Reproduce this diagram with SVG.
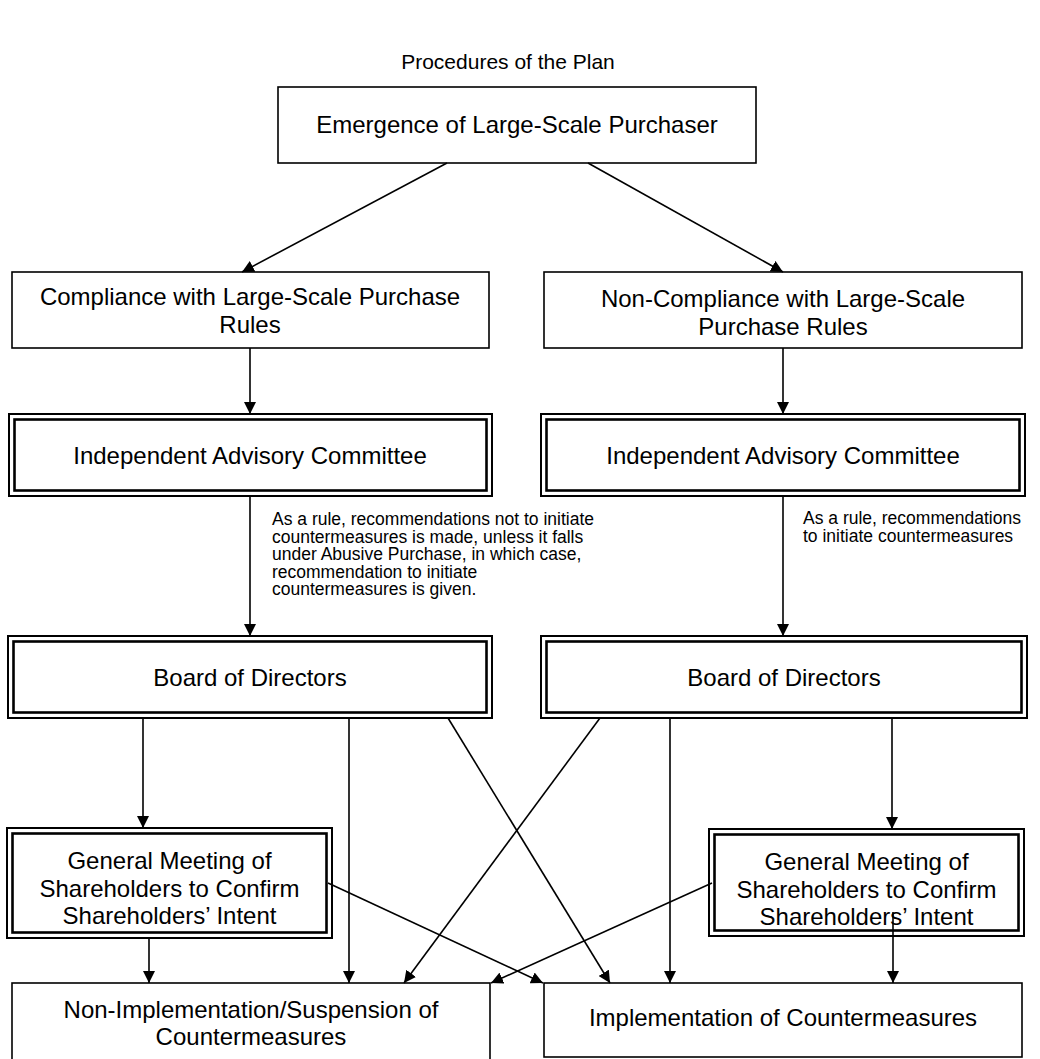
<svg xmlns="http://www.w3.org/2000/svg" width="1040" height="1059" viewBox="0 0 1040 1059">
<defs>
<marker id="ah" markerUnits="userSpaceOnUse" markerWidth="12" markerHeight="12" viewBox="0 0 12 12" refX="12" refY="6" orient="auto">
<path d="M0,0 L12,6 L0,12 z" fill="#000"/>
</marker>
<style>
.bx{fill:#fff;stroke:#000;stroke-width:1.6}
.o{fill:#fff;stroke:#000;stroke-width:2}
.i{fill:none;stroke:#000;stroke-width:2.6}
.t{font-family:"Liberation Sans",Arial,sans-serif;font-size:24px;fill:#000;text-anchor:middle}
.n{font-family:"Liberation Sans",Arial,sans-serif;font-size:17.5px;fill:#000}
.c line{stroke:#000;stroke-width:1.6;marker-end:url(#ah)}
</style>
</defs>
<rect width="1040" height="1059" fill="#fff"/>
<text class="t" x="508" y="69" style="font-size:21px">Procedures of the Plan</text>

<g id="emergence">
<rect class="bx" x="278" y="87" width="478" height="76"/>
<text class="t" x="517" y="133">Emergence of Large-Scale Purchaser</text>
</g>
<g id="compliance">
<rect class="bx" x="12" y="272" width="477" height="76"/>
<text class="t" x="250" y="305">Compliance with Large-Scale Purchase</text>
<text class="t" x="250" y="333">Rules</text>
</g>
<g id="noncompliance">
<rect class="bx" x="544" y="272" width="478" height="76"/>
<text class="t" x="783" y="307">Non-Compliance with Large-Scale</text>
<text class="t" x="783" y="335">Purchase Rules</text>
</g>
<g id="iac-left">
<rect class="o" x="9" y="414" width="483" height="82"/>
<rect class="i" x="14.5" y="419.5" width="472" height="71"/>
<text class="t" x="250" y="464">Independent Advisory Committee</text>
</g>
<g id="iac-right">
<rect class="o" x="541" y="414" width="484" height="82"/>
<rect class="i" x="546.5" y="419.5" width="473" height="71"/>
<text class="t" x="783" y="464">Independent Advisory Committee</text>
</g>
<g id="note-left">
<text class="n" x="272" y="525">As a rule, recommendations not to initiate</text>
<text class="n" x="272" y="542.5">countermeasures is made, unless it falls</text>
<text class="n" x="272" y="560">under Abusive Purchase, in which case,</text>
<text class="n" x="272" y="577.5">recommendation to initiate</text>
<text class="n" x="272" y="595">countermeasures is given.</text>
</g>
<g id="note-right">
<text class="n" x="803" y="524">As a rule, recommendations</text>
<text class="n" x="803" y="541.5">to initiate countermeasures</text>
</g>
<g id="board-left">
<rect class="o" x="8" y="636" width="484" height="82"/>
<rect class="i" x="13.5" y="641.5" width="473" height="71"/>
<text class="t" x="250" y="686">Board of Directors</text>
</g>
<g id="board-right">
<rect class="o" x="541" y="636" width="486" height="82"/>
<rect class="i" x="546.5" y="641.5" width="475" height="71"/>
<text class="t" x="784" y="686">Board of Directors</text>
</g>
<g id="gms-left">
<rect class="o" x="7" y="828" width="325" height="110"/>
<rect class="i" x="12.5" y="833.5" width="314" height="99"/>
<text class="t" x="169.5" y="869">General Meeting of</text>
<text class="t" x="169.5" y="897">Shareholders to Confirm</text>
<text class="t" x="169.5" y="924">Shareholders’ Intent</text>
</g>
<g id="gms-right">
<rect class="o" x="709" y="829" width="315" height="107"/>
<rect class="i" x="714.5" y="834.5" width="304" height="96"/>
<text class="t" x="866.5" y="870">General Meeting of</text>
<text class="t" x="866.5" y="898">Shareholders to Confirm</text>
<text class="t" x="866.5" y="925">Shareholders’ Intent</text>
</g>
<g id="non-implementation">
<rect class="bx" x="12" y="983" width="478" height="80"/>
<text class="t" x="251" y="1018">Non-Implementation/Suspension of</text>
<text class="t" x="251" y="1045">Countermeasures</text>
</g>
<g id="implementation">
<rect class="bx" x="544" y="983" width="478" height="74"/>
<text class="t" x="783" y="1026">Implementation of Countermeasures</text>
</g>

<g id="connectors" class="c">
<line x1="447" y1="163" x2="242" y2="272"/>
<line x1="588" y1="163" x2="783" y2="272"/>
<line x1="250" y1="348" x2="250" y2="414"/>
<line x1="783" y1="348" x2="783" y2="414"/>
<line x1="250" y1="496" x2="250" y2="636"/>
<line x1="783" y1="496" x2="783" y2="636"/>
<line x1="143" y1="718" x2="143" y2="828"/>
<line x1="349" y1="718" x2="349" y2="983"/>
<line x1="448" y1="718" x2="610" y2="983"/>
<line x1="600" y1="718" x2="404" y2="983"/>
<line x1="670" y1="718" x2="670" y2="983"/>
<line x1="892" y1="718" x2="892" y2="829"/>
<line x1="149" y1="938" x2="149" y2="983"/>
<line x1="328" y1="883" x2="543" y2="983"/>
<line x1="712" y1="883" x2="491" y2="983"/>
<line x1="893" y1="912" x2="893" y2="983"/>
</g>
</svg>
